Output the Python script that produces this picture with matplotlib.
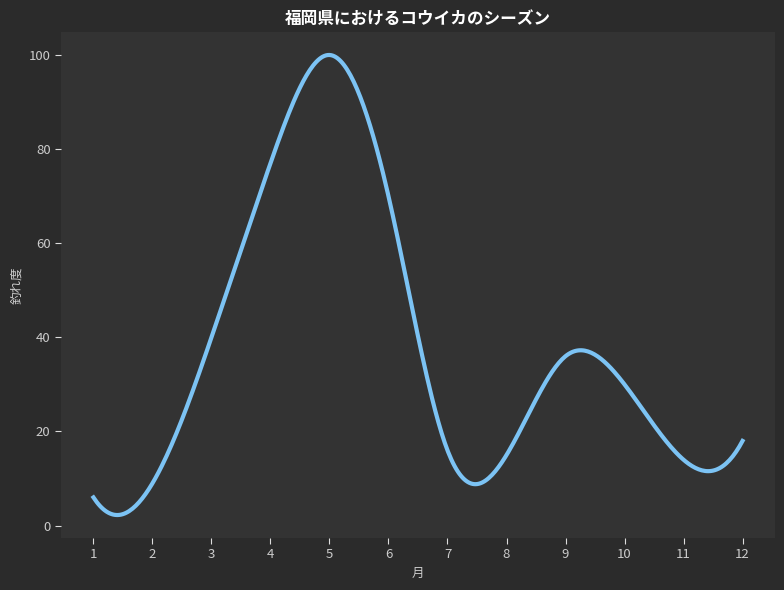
import numpy as np
import matplotlib
matplotlib.use('Agg')
import matplotlib.pyplot as plt

plt.rcParams['font.family'] = ['Noto Sans CJK JP', 'DejaVu Sans']

# 月ごとの釣れ度
months = [1, 2, 3, 4, 5, 6, 7, 8, 9, 10, 11, 12]
catch = [6, 9, 40, 77, 100, 70, 16, 15, 36, 30, 14, 18]


def spline_curve(x, y, num=400):
    # not-a-knot 3次スプライン (等間隔)
    x = np.asarray(x, dtype=float)
    y = np.asarray(y, dtype=float)
    n = len(x)
    h = x[1] - x[0]
    A = np.zeros((n, n))
    b = np.zeros(n)
    A[0, :3] = [1, -2, 1]
    A[-1, -3:] = [1, -2, 1]
    for i in range(1, n - 1):
        A[i, i - 1:i + 2] = [1, 4, 1]
        b[i] = 6 * (y[i - 1] - 2 * y[i] + y[i + 1]) / h ** 2
    M = np.linalg.solve(A, b)
    xs = np.linspace(x[0], x[-1], num)
    idx = np.clip(((xs - x[0]) // h).astype(int), 0, n - 2)
    t = (xs - x[idx]) / h
    ys = (M[idx] * (1 - t) ** 3 + M[idx + 1] * t ** 3) * h ** 2 / 6 \
        + (y[idx] - M[idx] * h ** 2 / 6) * (1 - t) \
        + (y[idx + 1] - M[idx + 1] * h ** 2 / 6) * t
    return xs, ys


xs, ys = spline_curve(months, catch)

fig = plt.figure(figsize=(7.84, 5.90), dpi=100, facecolor='#2b2b2b')
ax = fig.add_axes([0.0778, 0.0881, 0.9107, 0.8577], facecolor='#333333')

ax.plot(xs, ys, color='#7cc3f4', linewidth=3)

ax.set_xticks(months)
ax.set_title('福岡県におけるコウイカのシーズン', color='white', fontsize=12,
             fontweight='bold', pad=6)
ax.set_xlabel('月', color='#cccccc', fontsize=9)
ax.set_ylabel('釣れ度', color='#cccccc', fontsize=9)
ax.tick_params(colors='#dddddd', labelcolor='#cccccc', labelsize=9.5, length=4)
for s in ax.spines.values():
    s.set_visible(False)

fig.savefig('out.png', dpi=100, facecolor=fig.get_facecolor())
